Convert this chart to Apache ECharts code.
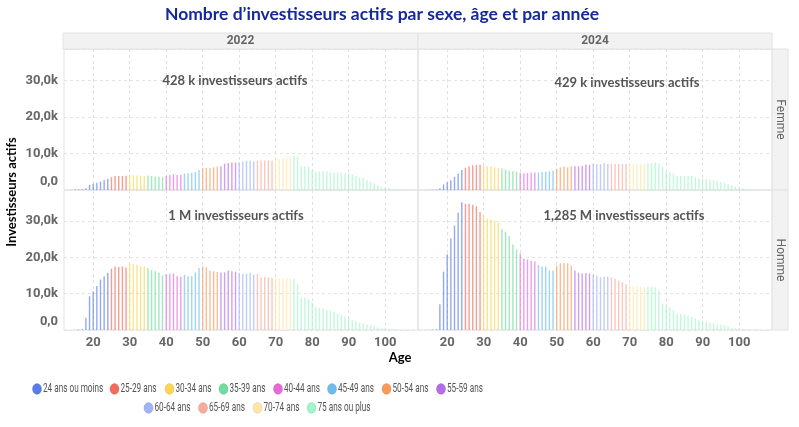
<!DOCTYPE html>
<html><head><meta charset="utf-8">
<script src="https://cdn.jsdelivr.net/npm/echarts@6/dist/echarts.min.js"></script>
<style>html,body{margin:0;padding:0;background:#fff}#c{width:799px;height:427px}</style>
</head><body><div id="c"></div>
<script>
// Axis categories (ages shown on the x axis)
const axisAges = [12,13,14,15,16,17,18,19,20,21,22,23,24,25,26,27,28,29,30,31,32,33,34,35,36,37,38,39,40,41,42,43,44,45,46,47,48,49,50,51,52,53,54,55,56,57,58,59,60,61,62,63,64,65,66,67,68,69,70,71,72,73,74,75,76,77,78,79,80,81,82,83,84,85,86,87,88,89,90,91,92,93,94,95,96,97,98,99,100,101,102,103,104,105,106,107,108,109];
// Ages that carry data (15 .. 105)
const ages = [15,16,17,18,19,20,21,22,23,24,25,26,27,28,29,30,31,32,33,34,35,36,37,38,39,40,41,42,43,44,45,46,47,48,49,50,51,52,53,54,55,56,57,58,59,60,61,62,63,64,65,66,67,68,69,70,71,72,73,74,75,76,77,78,79,80,81,82,83,84,85,86,87,88,89,90,91,92,93,94,95,96,97,98,99,100,101,102,103,104,105];

const groupNames = ['24 ans ou moins','25-29 ans','30-34 ans','35-39 ans','40-44 ans','45-49 ans','50-54 ans','55-59 ans','60-64 ans','65-69 ans','70-74 ans','75 ans ou plus'];
const groupStartAge = [0,25,30,35,40,45,50,55,60,65,70,75];
const groupColors = ['#5b7ce6','#f26b5b','#fbd654','#6fdd9e','#e66ada','#6cbdec','#f79b5b','#b36de6','#9fb3f7','#f7aa9d','#fce7a4','#a2f5c8'];

// Investisseurs actifs (milliers) by age, 15..105
const femme2022 = [0.2,0.2,0.2,0.45,1.4,1.8,2.0,2.3,2.7,3.0, 3.5,3.8,3.8,3.8,3.9, 4.0,4.0,4.0,3.9,3.8, 4.0,3.8,3.7,3.6,3.6, 3.9,4.1,4.3,4.1,4.2, 4.5,4.6,4.7,4.9,5.5, 6.0,6.0,6.0,6.2,6.4, 6.5,7.2,7.4,7.5,7.5, 7.6,7.8,8.0,8.0,7.9, 8.0,8.1,8.1,8.1,8.1, 8.2,8.4,8.6,8.9,9.2, 9.3,9.1,6.5,6.5,6.4, 5.6,5.0,5.0,5.2,5.1, 4.9,4.7,4.7,4.7,4.6, 4.6,4.3,3.8,3.5,3.2, 2.7,2.3,1.8,1.4,0.9, 0.7,0.45,0.3,0.2,0.15,0.1];
const femme2024 = [0.1,0.1,0.15,0.45,1.5,2.1,2.7,3.6,4.5,5.5, 6.1,6.5,6.8,6.9,6.9, 6.7,6.5,6.4,6.2,6.1, 5.9,5.6,5.3,5.1,5.0, 4.7,4.6,4.7,4.8,4.8, 4.8,4.9,5.0,5.1,5.3, 5.8,6.2,6.4,6.2,6.4, 6.5,6.5,6.6,7.0,6.9, 7.1,7.1,7.1,7.3,7.2, 7.2,7.1,7.1,7.1,7.1, 7.1,7.1,7.1,7.1,7.2, 7.3,7.4,7.5,7.3,6.4, 5.0,4.9,4.5,3.8,3.8, 3.8,3.8,3.8,3.5,3.2, 3.0,3.0,2.8,2.7,2.5, 2.2,2.0,1.6,1.3,0.9, 0.7,0.45,0.3,0.2,0.1,0.05];
const homme2022 = [0.1,0.15,0.2,3.4,9.3,10.6,12.1,13.9,14.8,15.8, 16.9,17.5,17.4,17.5,17.2, 18.2,18.3,18.0,17.6,17.5, 17.0,16.5,16.2,15.8,15.1, 15.4,15.5,15.6,14.9,14.7, 15.2,14.8,14.8,15.9,17.1, 17.5,17.3,16.4,16.2,16.0, 15.8,15.9,16.4,16.2,16.1, 15.8,15.5,15.5,15.8,15.2, 15.5,14.6,14.6,14.5,14.4, 14.3,14.2,14.2,14.4,14.2, 14.2,12.7,8.9,8.9,8.6, 7.6,6.4,6.1,5.9,5.5, 5.3,5.0,4.5,4.1,3.7, 3.5,2.7,2.5,2.1,1.8, 1.5,1.3,1.0,0.7,0.5, 0.4,0.3,0.2,0.1,0.1,0.05];
const homme2024 = [0.05,0.1,0.15,7.1,16.1,20.9,25.2,28.8,32.3,35.2, 34.8,34.8,34.5,34.1,32.5, 31.4,30.7,30.5,30.2,29.5, 27.9,27.1,25.9,23.6,22.2, 21.1,19.7,19.5,19.1,18.9, 17.9,17.5,17.5,16.4,16.4, 17.7,18.4,18.4,18.4,17.7, 16.4,15.8,15.6,15.7,15.6, 15.3,15.0,14.5,14.7,14.7, 14.5,14.1,13.6,13.2,12.7, 12.5,12.0,12.0,11.9,11.9, 11.9,11.9,11.8,10.9,7.3, 6.8,6.2,5.5,4.5,4.4, 4.3,3.8,3.6,3.2,2.7, 2.5,2.3,2.0,1.8,1.5, 1.4,1.2,0.9,0.6,0.45, 0.35,0.25,0.15,0.1,0.05,0];

const columnLabels = ['2022','2024'];
const rowLabels = ['Femme','Homme'];
const totals = ['428 k investisseurs actifs','429 k investisseurs actifs','1 M investisseurs actifs','1,285 M investisseurs actifs'];

const panels = [femme2022, femme2024, homme2022, homme2024];

function groupOf(age){ let g = 0; for (let i=0;i<groupStartAge.length;i++){ if (age >= groupStartAge[i]) g = i; } return g; }

const gridBox = [
  {left:64, top:49, width:354, height:141},
  {left:418, top:49, width:354, height:141},
  {left:64, top:190, width:354, height:140},
  {left:418, top:190, width:354, height:140}
];
const labelFont = {fontFamily:'Roboto, "Open Sans", sans-serif', fontSize:13, fontWeight:'bold', color:'#666'};
const tenFn = (i, v) => Number(v) % 10 === 0;

const grids = gridBox.map(b => Object.assign({show:true, borderColor:'#e2e2e2', borderWidth:1, containLabel:false}, b));
const xAxes = gridBox.map((b, i) => ({
  type:'category', gridIndex:i, data:axisAges, boundaryGap:false,
  axisLine:{show:false}, axisTick:{show:false},
  axisLabel:Object.assign({show: i>=2, interval:tenFn, margin:6}, labelFont),
  splitLine:{show:true, interval:tenFn, lineStyle:{color:'#e0e0e0', type:[3,3], width:1}}
}));
const yAxes = gridBox.map((b, i) => ({
  type:'value', gridIndex:i, min:0, max:38.6, interval:10,
  axisLine:{show:false}, axisTick:{show:false},
  axisLabel:Object.assign({show: i%2===0, margin:6, showMaxLabel:false,
    formatter: v => v === 0 ? '{z|0,0}' : '{n|' + v.toFixed(1).replace('.', ',') + 'k}',
    rich:{ z:{padding:[0,0,16,0], fontFamily:labelFont.fontFamily, fontSize:13, fontWeight:'bold', color:'#666'},
           n:{fontFamily:labelFont.fontFamily, fontSize:13, fontWeight:'bold', color:'#666'} }
  }, labelFont),
  splitLine:{show:true, lineStyle:{color:'#e4e4e4', type:[3,3], width:1}}
}));

const series = [];
panels.forEach((vals, p) => {
  groupNames.forEach((name, g) => {
    series.push({
      type:'bar', name:name, xAxisIndex:p, yAxisIndex:p, stack:'p'+p,
      barWidth:1.4, silent:true,
      itemStyle:{color:groupColors[g], opacity:0.66},
      data: axisAges.map(a => { const k = ages.indexOf(a); if (k < 0) return null; return groupOf(a) === g ? vals[k] : null; })
    });
  });
});

const graphics = [];
// column headers
[[63,355],[418,354]].forEach(([x,w], i) => {
  graphics.push({type:'rect', shape:{x:x, y:33, width:w, height:16}, style:{fill:'#f2f2f2', stroke:'#e2e2e2', lineWidth:1}, z:10});
  graphics.push({type:'text', x:x + w/2, y:41, style:{text:columnLabels[i], fill:'#666', font:'bold 12px Roboto, sans-serif', textAlign:'center', textVerticalAlign:'middle'}, z:11});
});
// row strips
[[49,141],[190,140]].forEach(([y,h], i) => {
  graphics.push({type:'rect', shape:{x:772, y:y, width:16, height:h}, style:{fill:'#f2f2f2', stroke:'#e2e2e2', lineWidth:1}, z:10});
  graphics.push({type:'text', x:780, y:y + h/2, rotation:-Math.PI/2, style:{text:rowLabels[i], fill:'#666', font:'12px Roboto, sans-serif', textAlign:'center', textVerticalAlign:'middle'}, z:11});
});
// totals
[[235,81],[627,83],[236,216],[624,216]].forEach(([x,y], i) => {
  graphics.push({type:'text', x:x, y:y, style:{text:totals[i], fill:'#555', font:'bold 13px Lato, sans-serif', textAlign:'center', textVerticalAlign:'middle'}, z:11});
});
// axis titles
graphics.push({type:'text', x:12, y:192, rotation:Math.PI/2, style:{text:'Investisseurs actifs', fill:'#000', font:'bold 13px Lato, sans-serif', textAlign:'center', textVerticalAlign:'middle'}, z:11});
graphics.push({type:'text', x:400, y:358, style:{text:'Age', fill:'#000', font:'bold 13px Lato, sans-serif', textAlign:'center', textVerticalAlign:'middle'}, z:11});

// legend (condensed text, as in the reference)
const legendSlots = [[37,389],[114.5,389],[169.5,389],[223.5,389],[278,389],[332,389],[386.5,389],[441,389],[148.5,408],[203,408],[257.5,408],[311.5,408]];
groupNames.forEach((name, g) => {
  const [cx, cy] = legendSlots[g];
  graphics.push({type:'ellipse', shape:{cx:cx, cy:cy, rx:4.6, ry:5.4}, style:{fill:groupColors[g], stroke:'rgba(0,0,0,0.12)', lineWidth:0.6}, z:11});
  graphics.push({type:'text', x:cx + 6, y:cy, scaleX:0.63, style:{text:name, fill:'#555', font:'13px Roboto, sans-serif', textAlign:'left', textVerticalAlign:'middle'}, z:11});
});

const option = {
  backgroundColor:'#fff',
  animation:false,
  title:{text:'Nombre d\u2019investisseurs actifs par sexe, \u00e2ge et par ann\u00e9e', left:377, top:0, textAlign:'center',
    textStyle:{fontFamily:'Lato, sans-serif', fontWeight:'bold', fontSize:17.5, color:'#14299a'}},
  grid:grids, xAxis:xAxes, yAxis:yAxes, series:series, graphic:graphics
};
const chart = echarts.init(document.getElementById('c'), null, {renderer:'canvas'});
chart.setOption(option);
</script></body></html>
